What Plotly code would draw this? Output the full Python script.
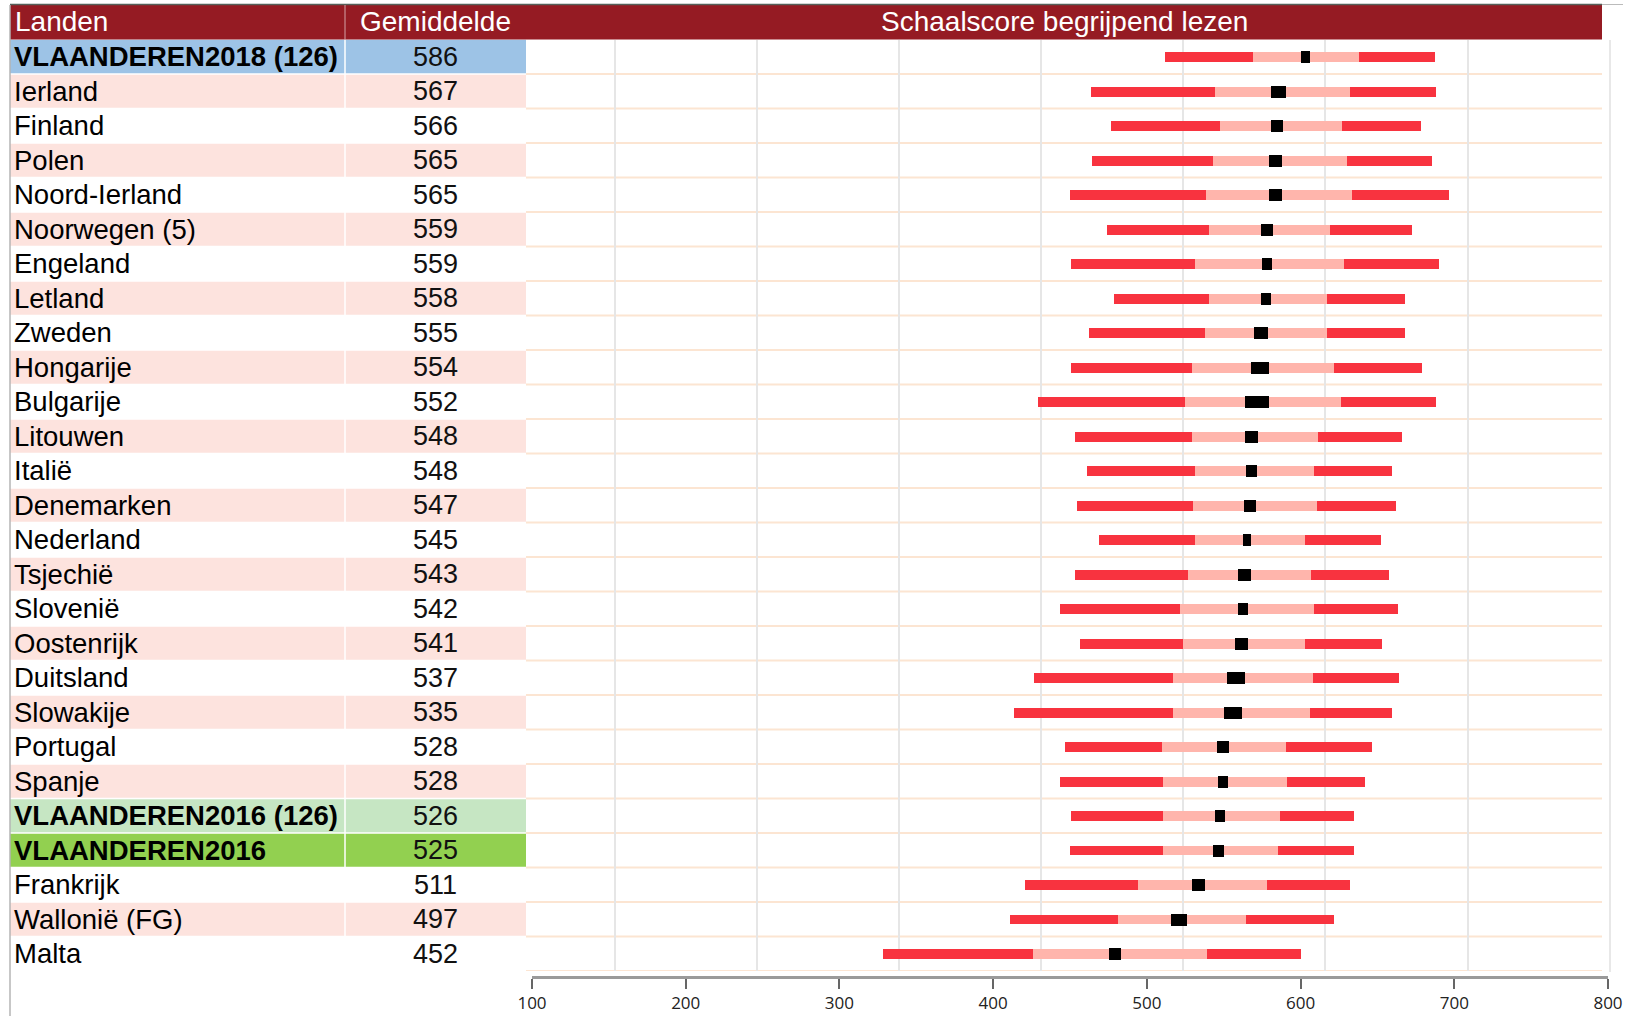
import plotly.graph_objects as go

# ---------------- data ----------------
landen = ["VLAANDEREN2018 (126)", "Ierland", "Finland", "Polen", "Noord-Ierland",
          "Noorwegen (5)", "Engeland", "Letland", "Zweden", "Hongarije", "Bulgarije",
          "Litouwen", "Italië", "Denemarken", "Nederland", "Tsjechië", "Slovenië",
          "Oostenrijk", "Duitsland", "Slowakije", "Portugal", "Spanje",
          "VLAANDEREN2016 (126)", "VLAANDEREN2016", "Frankrijk", "Wallonië (FG)", "Malta"]
gemiddelde = [586, 567, 566, 565, 565, 559, 559, 558, 555, 554, 552, 548, 548, 547,
              545, 543, 542, 541, 537, 535, 528, 528, 526, 525, 511, 497, 452]
p5 = [487, 435, 449, 436, 420, 446, 421, 451, 434, 421, 398, 424, 432, 425,
      441, 424, 413, 427, 395, 381, 417, 413, 421, 420, 389, 378, 289]
p25 = [549, 522, 526, 521, 516, 518, 508, 518, 515, 506, 501, 506, 508, 507,
       508, 503, 498, 500, 493, 493, 485, 486, 486, 486, 468, 454, 394]
ci_half = [3.5, 5.2, 4.2, 4.5, 4.5, 4.2, 3.4, 3.4, 4.9, 6.1, 8.5, 4.9, 4.0, 4.4,
           3.0, 4.5, 3.5, 4.8, 6.5, 6.1, 4.5, 3.5, 3.5, 4.0, 4.5, 5.5, 4.0]
p75 = [624, 617, 612, 615, 619, 603, 613, 601, 601, 606, 611, 595, 592, 594,
       586, 590, 592, 586, 591, 589, 572, 573, 568, 567, 559, 544, 517]
p95 = [677, 678, 667, 675, 687, 661, 680, 656, 656, 668, 678, 654, 647, 650,
       639, 645, 651, 640, 652, 647, 633, 628, 620, 620, 617, 606, 583]
as_ticks = [100, 200, 300, 400, 500, 600, 700, 800]
headers = ["Landen", "Gemiddelde", "Schaalscore begrijpend lezen"]
special_rows = {"VLAANDEREN2018 (126)": "#9DC3E6",
                "VLAANDEREN2016 (126)": "#C6E6C3",
                "VLAANDEREN2016": "#92D050"}

# ---------------- layout helpers ----------------
W, H = 1634, 1016
def px(x):
    return x / W
def py(y):
    return 1 - y / H

n = len(landen)
rows = list(range(n))
RED = "#F8333F"
PINK = "#FFB5AC"
BLACK = "#000000"

lo_ci = [m - c for m, c in zip(gemiddelde, ci_half)]
hi_ci = [m + c for m, c in zip(gemiddelde, ci_half)]

fig = go.Figure()
segments = [
    (p5, p25, RED, 0.28),
    (p25, lo_ci, PINK, 0.28),
    (hi_ci, p75, PINK, 0.28),
    (p75, p95, RED, 0.28),
    (lo_ci, hi_ci, BLACK, 0.34),
]
for start, end, col, wd in segments:
    fig.add_trace(go.Bar(
        y=rows, x=[e - s for s, e in zip(start, end)], base=start,
        orientation="h", width=wd, marker=dict(color=col, line=dict(width=0)),
        showlegend=False, hoverinfo="skip", xaxis="x", yaxis="y"))

# invisible trace for the bottom scale axis
fig.add_trace(go.Scatter(x=as_ticks, y=[0.5] * len(as_ticks), mode="markers",
                         marker=dict(opacity=0), showlegend=False,
                         hoverinfo="skip", xaxis="x2", yaxis="y2"))

shapes = []
annotations = []
TX0, TX1, COLX, PLX0, PLX1 = 10, 526, 345, 526, 1602

# table backgrounds
for i, name in enumerate(landen):
    col = special_rows.get(name, "#FDE3DE" if i % 2 == 1 else "#FFFFFF")
    shapes.append(dict(type="rect", xref="paper", yref="y", x0=px(TX0), x1=px(TX1),
                       y0=i - 0.5, y1=i + 0.5, fillcolor=col, line=dict(width=0),
                       layer="below"))
# white separators in table
for i in range(n - 1):
    shapes.append(dict(type="line", xref="paper", yref="y", x0=px(TX0), x1=px(TX1),
                       y0=i + 0.5, y1=i + 0.5, line=dict(color="white", width=1.5)))
shapes.append(dict(type="line", xref="paper", yref="y", x0=px(COLX), x1=px(COLX),
                   y0=-0.5, y1=n - 0.5, line=dict(color="white", width=1.5)))
# orange separators in plot area
for i in range(n):
    shapes.append(dict(type="line", xref="paper", yref="y", x0=px(PLX0), x1=px(PLX1),
                       y0=i + 0.5, y1=i + 0.5, line=dict(color="#FCE5D2", width=2),
                       layer="below"))
# header band
shapes.append(dict(type="rect", xref="paper", yref="paper", x0=px(10), x1=px(1602),
                   y0=py(39.6), y1=py(5), fillcolor="#951B23", line=dict(width=0)))
shapes.append(dict(type="line", xref="paper", yref="paper", x0=px(10), x1=px(1602),
                   y0=py(4.5), y1=py(4.5), line=dict(color="#56605A", width=1.5)))
shapes.append(dict(type="line", xref="paper", yref="paper", x0=px(1602), x1=px(1623),
                   y0=py(4.5), y1=py(4.5), line=dict(color="#BBBBBB", width=1)))
shapes.append(dict(type="line", xref="paper", yref="paper", x0=px(COLX), x1=px(COLX),
                   y0=py(39.6), y1=py(5), line=dict(color="rgba(255,255,255,0.6)", width=1)))
# borders
shapes.append(dict(type="line", xref="paper", yref="paper", x0=px(10), x1=px(10),
                   y0=py(5), y1=0, line=dict(color="#B5B5B5", width=1.5)))
shapes.append(dict(type="line", xref="paper", yref="paper", x0=px(1610), x1=px(1610),
                   y0=py(40), y1=py(972), line=dict(color="#E8E8E8", width=2)))

FONT = "Liberation Sans, Arial, sans-serif"
# header texts
annotations.append(dict(xref="paper", yref="paper", x=px(13), y=py(22), text=headers[0],
                        showarrow=False, xanchor="left", yanchor="middle",
                        font=dict(family=FONT, size=28, color="white")))
annotations.append(dict(xref="paper", yref="paper", x=px(435.5), y=py(22), text=headers[1],
                        showarrow=False, xanchor="center", yanchor="middle",
                        font=dict(family=FONT, size=28, color="white")))
annotations.append(dict(xref="paper", yref="paper", x=px(1064), y=py(22), text=headers[2],
                        showarrow=False, xanchor="center", yanchor="middle",
                        font=dict(family=FONT, size=28, color="white")))
# table texts
for i, (name, val) in enumerate(zip(landen, gemiddelde)):
    bold = name.startswith("VLAANDEREN")
    annotations.append(dict(xref="paper", yref="y", x=px(12), y=i, text=name,
                            showarrow=False, xanchor="left", yanchor="middle",
                            font=dict(family=FONT, size=27.5, color="#000",
                                      weight="bold" if bold else "normal")))
    annotations.append(dict(xref="paper", yref="y", x=px(435.5), y=i, text=str(val),
                            showarrow=False, xanchor="center", yanchor="middle",
                            font=dict(family=FONT, size=27, color="#111")))

px_per_unit = (1467.5 - 899) / 400.0
x_lo = 300 - (899 - PLX0) / px_per_unit
x_hi = 300 + (PLX1 - 899) / px_per_unit

fig.update_layout(
    template="none",
    width=W, height=H,
    margin=dict(l=0, r=0, t=0, b=0, pad=0, autoexpand=False),
    paper_bgcolor="white", plot_bgcolor="rgba(0,0,0,0)",
    barmode="overlay", bargap=0,
    showlegend=False,
    xaxis=dict(domain=[px(PLX0), px(PLX1)], range=[x_lo, x_hi], tick0=0, dtick=100,
               showgrid=True, gridcolor="#E6E6E6", gridwidth=1.5, showticklabels=False,
               ticks="", zeroline=False, showline=False, anchor="y", fixedrange=True,
               automargin=False),
    yaxis=dict(domain=[py(971), py(39.6)], range=[n - 0.5, -0.5], showgrid=False,
               showticklabels=False, zeroline=False, showline=False, ticks="",
               anchor="x", fixedrange=True, automargin=False),
    xaxis2=dict(domain=[px(532), px(1608)], range=[100, 800], anchor="y2",
                tickmode="array", tickvals=as_ticks, ticktext=[str(t) for t in as_ticks],
                ticks="outside", ticklen=10, tickwidth=1.5, tickcolor="#666666",
                showline=True, linecolor="#9A9A9A", linewidth=2.5, showgrid=False,
                zeroline=False, tickfont=dict(family="Open Sans, sans-serif", size=17,
                                              color="#222"),
                ticklabelstandoff=0, fixedrange=True, automargin=False),
    yaxis2=dict(domain=[py(976), py(970)], range=[0, 1], anchor="x2", visible=False,
                fixedrange=True, automargin=False),
    shapes=shapes,
    annotations=annotations,
)

fig.write_html(
    "out.html",
    config={"displayModeBar": False},
    post_script="document.body.style.margin='0px';document.body.style.overflow='hidden';",
)
